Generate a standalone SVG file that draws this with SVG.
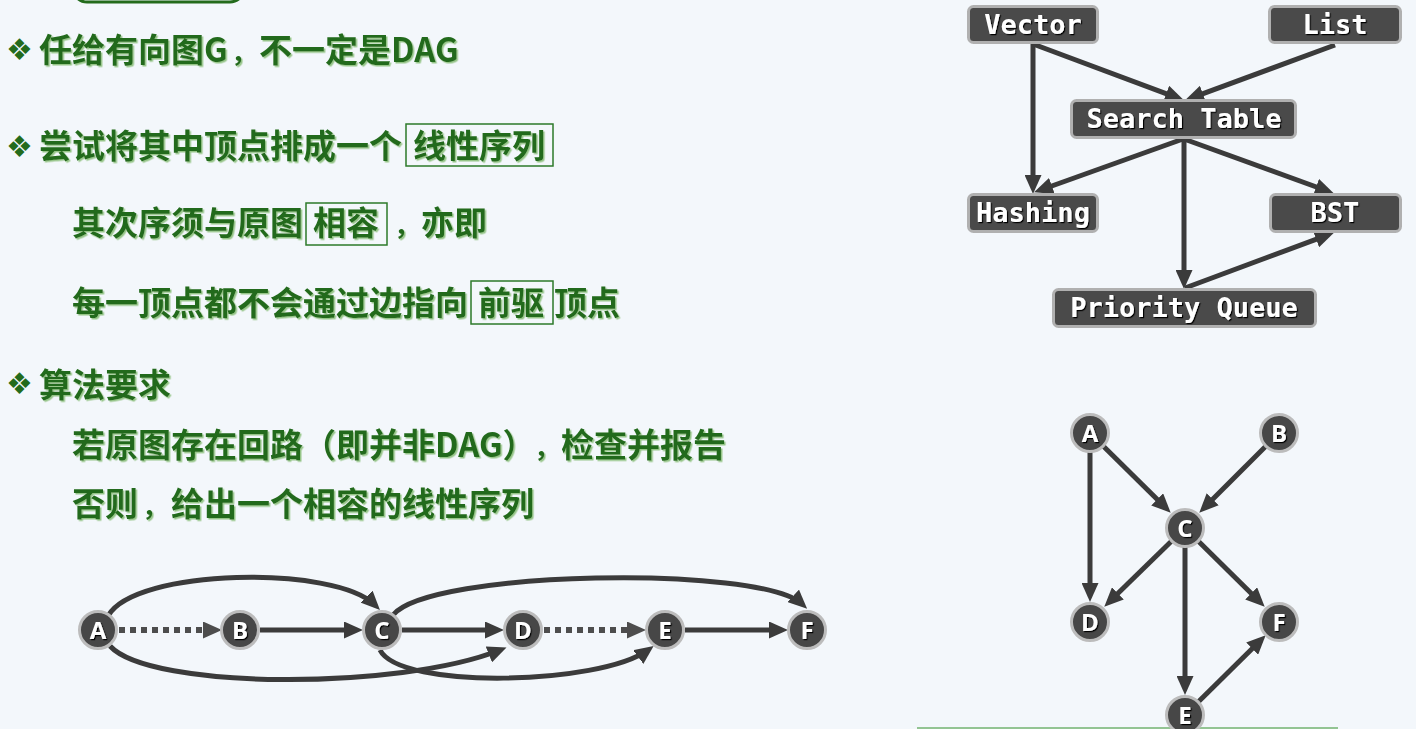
<svg xmlns="http://www.w3.org/2000/svg" width="1416" height="729" viewBox="0 0 1416 729">
<defs>
<style>
.t{font-family:"Noto Sans CJK SC","Noto Sans",sans-serif;font-size:33px;font-weight:bold;fill:#236b1c;filter:url(#gs)}
.c{font-size:26px}
.bul{font-family:"DejaVu Sans",sans-serif;font-size:30px;fill:#236b1c}
.hl{fill:none;stroke:#2d7a2a;stroke-width:1.5}
.e{fill:none;stroke:#3b3b3b;stroke-width:5;marker-end:url(#ah)}
.d{fill:none;stroke:#4d4d4d;stroke-width:6;stroke-dasharray:6 5;marker-end:url(#ahd)}
.box rect{fill:#4a4a4a;stroke:#b0b0b0;stroke-width:3}
.box text{font-family:"DejaVu Sans Mono",monospace;font-weight:bold;font-size:27px;fill:#fff;text-anchor:middle;filter:url(#ws)}
.nd circle{fill:#474747;stroke:#bcbcbc;stroke-width:3}
.nd text{font-family:"Open Sans",sans-serif;font-weight:bold;font-size:24px;fill:#fff;text-anchor:middle;filter:url(#ws)}
</style>
<filter id="gs"><feDropShadow dx="1.5" dy="1.5" stdDeviation="0.3" flood-color="#8cc07c" flood-opacity="0.9"/></filter>
<filter id="ws"><feDropShadow dx="1.2" dy="1.2" stdDeviation="0.3" flood-color="#000"/></filter>
<marker id="ah" markerUnits="userSpaceOnUse" markerWidth="19" markerHeight="17" refX="12" refY="8.5" orient="auto"><path d="M0,0 L19,8.5 L0,17 z" fill="#3b3b3b"/></marker>
<marker id="ahd" markerUnits="userSpaceOnUse" markerWidth="19" markerHeight="17" refX="12" refY="8.5" orient="auto"><path d="M0,0 L19,8.5 L0,17 z" fill="#4d4d4d"/></marker>
</defs>
<rect width="1416" height="729" fill="#f3f7fb"/>
<rect x="73" y="-40" width="171" height="42" rx="14" fill="none" stroke="#236b1c" stroke-width="3"/>

<g id="text">
<text class="bul" x="6" y="60">❖</text>
<text class="t" x="39" y="61.5">任给有向图G</text>
<text class="t c" x="231" y="61.5">，</text>
<text class="t" x="259" y="61.5">不一定是DAG</text>
<text class="bul" x="6" y="157">❖</text>
<text class="t" x="39" y="157.5">尝试将其中顶点排成一个</text>
<rect class="hl" x="406" y="124" width="147" height="42"/>
<text class="t" x="413" y="157.5">线性序列</text>
<text class="t" x="72" y="234.5">其次序须与原图</text>
<rect class="hl" x="306" y="203" width="81" height="42"/>
<text class="t" x="313" y="234.5">相容</text>
<text class="t c" x="394" y="234.5">，</text>
<text class="t" x="421" y="234.5">亦即</text>
<text class="t" x="72" y="314.5">每一顶点都不会通过边指向</text>
<rect class="hl" x="471" y="281" width="82" height="43"/>
<text class="t" x="478" y="314.5">前驱</text>
<text class="t" x="554" y="314.5">顶点</text>
<text class="bul" x="6" y="394">❖</text>
<text class="t" x="39" y="396.5">算法要求</text>
<text class="t" x="72" y="456.5">若原图存在回路（即并非DAG）</text>
<text class="t c" x="534" y="456.5">，</text>
<text class="t" x="561" y="456.5">检查并报告</text>
<text class="t" x="72" y="515.5">否则</text>
<text class="t c" x="142" y="515.5">，</text>
<text class="t" x="171" y="515.5">给出一个相容的线性序列</text>
</g>

<g id="connectors">
<path class="e" d="M1033,44 L1033,187"/>
<path class="e" d="M1033,44 L1177.4,97.9"/>
<path class="e" d="M1335,45 L1191.6,97.9"/>
<path class="e" d="M1183,139 L1040.6,190"/>
<path class="e" d="M1184,139 L1327.4,191"/>
<path class="e" d="M1184,139 L1184,282"/>
<path class="e" d="M1185,288 L1327.4,235.1"/>

<path class="e" d="M1090,433 L1165.7,507.8"/>
<path class="e" d="M1279,433 L1204.2,507.8"/>
<path class="e" d="M1090,433 L1090,595"/>
<path class="e" d="M1185,528 L1109.3,601.8"/>
<path class="e" d="M1185,528 L1259.7,601.8"/>
<path class="e" d="M1185,528 L1185,688"/>
<path class="e" d="M1185,715 L1260.7,640.2"/>

<path class="d" d="M119,630 L215,630"/>
<path class="e" d="M260,630 L356,630"/>
<path class="e" d="M402,630 L497,630"/>
<path class="d" d="M544,630 L639,630"/>
<path class="e" d="M685,630 L781,630"/>
<path class="e" d="M108,616 C135,568 335,565 375,605"/>
<path class="e" d="M110,646 C150,690 400,690 500,650"/>
<path class="e" d="M393,615 C430,570 760,565 802,604"/>
<path class="e" d="M380,650 C400,690 600,685 648,650"/>
</g>

<line x1="917" y1="728" x2="1338" y2="728" stroke="#93c493" stroke-width="2"/>

<g id="n-vector" class="box"><rect x="968.5" y="6.5" width="129" height="36" rx="5"/><text x="1033" y="34">Vector</text></g>
<g id="n-list" class="box"><rect x="1269.5" y="6.5" width="131" height="36" rx="5"/><text x="1335" y="34">List</text></g>
<g id="n-searchtable" class="box"><rect x="1071.5" y="100.5" width="224" height="37" rx="5"/><text x="1184" y="128">Search Table</text></g>
<g id="n-hashing" class="box"><rect x="968.5" y="194.5" width="129" height="37" rx="5"/><text x="1033" y="222">Hashing</text></g>
<g id="n-bst" class="box"><rect x="1270.5" y="194.5" width="130" height="37" rx="5"/><text x="1335" y="222">BST</text></g>
<g id="n-pq" class="box"><rect x="1053.5" y="289.5" width="262" height="37" rx="5"/><text x="1184" y="317">Priority Queue</text></g>

<g id="n2-A" class="nd"><circle cx="1090" cy="433" r="18.5"/><text x="1090" y="441.5">A</text></g>
<g id="n2-B" class="nd"><circle cx="1279" cy="433" r="18.5"/><text x="1279" y="441.5">B</text></g>
<g id="n2-C" class="nd"><circle cx="1185" cy="528" r="18.5"/><text x="1185" y="536.5">C</text></g>
<g id="n2-D" class="nd"><circle cx="1090" cy="622" r="18.5"/><text x="1090" y="630.5">D</text></g>
<g id="n2-F" class="nd"><circle cx="1279" cy="622" r="18.5"/><text x="1279" y="630.5">F</text></g>
<g id="n2-E" class="nd"><circle cx="1185" cy="715" r="18.5"/><text x="1185" y="723.5">E</text></g>

<g id="n1-A" class="nd"><circle cx="98" cy="630" r="18.5"/><text x="98" y="638.5">A</text></g>
<g id="n1-B" class="nd"><circle cx="240" cy="630" r="18.5"/><text x="240" y="638.5">B</text></g>
<g id="n1-C" class="nd"><circle cx="382" cy="630" r="18.5"/><text x="382" y="638.5">C</text></g>
<g id="n1-D" class="nd"><circle cx="523" cy="630" r="18.5"/><text x="523" y="638.5">D</text></g>
<g id="n1-E" class="nd"><circle cx="665" cy="630" r="18.5"/><text x="665" y="638.5">E</text></g>
<g id="n1-F" class="nd"><circle cx="807" cy="630" r="18.5"/><text x="807" y="638.5">F</text></g>
</svg>
